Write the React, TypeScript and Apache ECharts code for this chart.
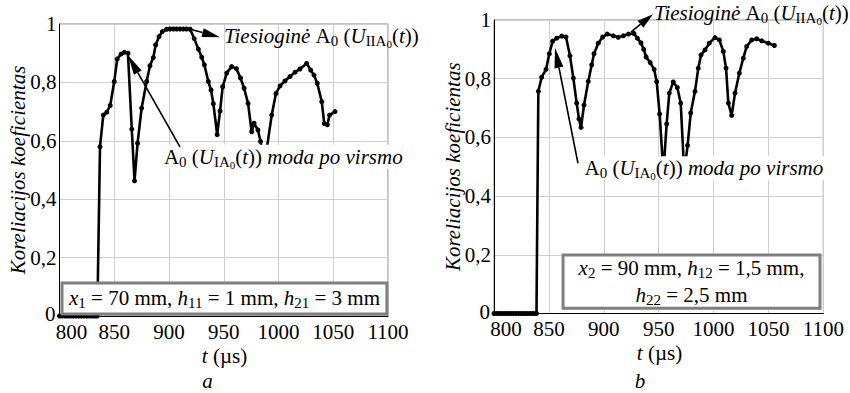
import React, { useEffect, useRef } from "react";
import * as echarts from "echarts";

// ---- data (t in µs, correlation coefficient) ----
const xTicks = [800, 850, 900, 950, 1000, 1050, 1100];
const yTicks = [0, 0.2, 0.4, 0.6, 0.8, 1];

const seriesA: [number, number][] = [
  [800, 0], [802.5, 0], [805, 0], [807.5, 0], [810, 0], [812.5, 0], [815, 0], [817.5, 0],
  [820, 0], [822.5, 0], [825, 0], [827.5, 0], [830, 0], [832.5, 0], [834.5, 0],
  [837, 0.58], [840, 0.688], [843.2, 0.698], [846.3, 0.721], [850, 0.803], [852.7, 0.88],
  [856.2, 0.897], [859.2, 0.903], [862.5, 0.9], [866, 0.64], [868.5, 0.463], [871.3, 0.592],
  [875, 0.712], [879.6, 0.803], [882.6, 0.857], [885.7, 0.885], [887.8, 0.928], [890.9, 0.957],
  [893.9, 0.974], [897.9, 0.982], [901, 0.983], [904, 0.983], [907, 0.983], [910, 0.983],
  [913, 0.983], [916, 0.983], [919.3, 0.982], [923, 0.95], [926.8, 0.914], [929.9, 0.886],
  [932.3, 0.86], [935.9, 0.803], [938.4, 0.774], [940.5, 0.727], [944, 0.621], [946.6, 0.702],
  [949, 0.785], [952.7, 0.832], [957.2, 0.854], [961.6, 0.847], [965.3, 0.815], [968.6, 0.78],
  [972.2, 0.728], [975.5, 0.631], [977.7, 0.66], [981.2, 0.637], [983.6, 0.598], [987.2, 0.52],
  [993.8, 0.688], [997.7, 0.762], [1001.4, 0.788], [1005.9, 0.805], [1010.5, 0.82],
  [1015.1, 0.835], [1019.6, 0.846], [1025.7, 0.865], [1029.4, 0.842], [1032.4, 0.825],
  [1035.4, 0.797], [1039.5, 0.734], [1041.8, 0.659], [1044.6, 0.655], [1046.6, 0.688],
  [1051.6, 0.7],
];

const seriesB: [number, number][] = [
  [800, 0], [802.5, 0], [805, 0], [807.5, 0], [810, 0], [812.5, 0], [815, 0], [817.5, 0],
  [820, 0], [822.5, 0], [825, 0], [827.5, 0], [830, 0], [832.5, 0], [835, 0], [837.5, 0],
  [838.7, 0],
  [840.4, 0.757], [843.4, 0.805], [847.4, 0.832], [850.4, 0.885], [853.4, 0.928],
  [857.1, 0.938], [861.7, 0.945], [865.6, 0.942], [869.2, 0.878], [872.3, 0.802],
  [875.3, 0.717], [877.4, 0.663], [879.3, 0.634], [882, 0.71], [885.9, 0.791], [889, 0.847],
  [891.1, 0.885], [895, 0.921], [899, 0.942], [903.2, 0.952], [908.7, 0.946], [913.2, 0.941],
  [917.8, 0.946], [922.4, 0.952], [927.5, 0.954], [930.6, 0.938], [933.9, 0.922],
  [936.4, 0.9], [938.6, 0.874], [942.3, 0.855], [945.9, 0.832], [948.2, 0.79], [950.9, 0.68],
  [954.3, 0.48], [957.3, 0.646], [959.7, 0.751], [963.3, 0.789], [967, 0.77], [970.1, 0.717],
  [973.3, 0.48], [976.4, 0.573], [979.2, 0.683], [983.1, 0.757], [986.1, 0.836],
  [988.6, 0.881], [992.2, 0.898], [996.1, 0.921], [1001.3, 0.94], [1005.3, 0.932],
  [1008.9, 0.893], [1011.4, 0.836], [1013.5, 0.717], [1016.5, 0.675], [1019.6, 0.751],
  [1023.5, 0.819], [1027.1, 0.87], [1030.2, 0.91], [1034.8, 0.932], [1039.3, 0.936],
  [1043.9, 0.929], [1049.9, 0.921], [1055.4, 0.913],
];

const yName = "Koreliacijos koeficientas";
const xNameVar = "t";
const xNameUnit = " (µs)";
const directLabel = "{i|Tiesioginė }{n|A}{s|0}{n| (}{i|U}{s|IIA}{ss|0}{n|(}{i|t}{n|))}";
const modeLabel = "{n|A}{s|0}{n| (}{i|U}{s|IA}{ss|0}{n|(}{i|t}{n|)) }{i|moda po virsmo}";
const boxLabelA = "{i|x}{s|1}{n| = 70 mm, }{i|h}{s|11}{n| = 1 mm, }{i|h}{s|21}{n| = 3 mm}";
const boxLabelB = "{i|x}{s|2}{n| = 90 mm, }{i|h}{s|12}{n| = 1,5 mm,}\n{i|h}{s|22}{n| = 2,5 mm}";
const captions = ["a", "b"];

const F = "'Liberation Serif', 'Times New Roman', serif";
const F_PLAIN = "Liberation Serif";
const FS = 21;

function makeRich(lh: number) {
  return {
    n: { fontSize: FS, fontFamily: F, fill: "#000", lineHeight: lh },
    i: { fontSize: FS, fontFamily: F, fontStyle: "italic", fill: "#000", lineHeight: lh },
    s: { fontSize: 15, fontFamily: F, fill: "#000", lineHeight: lh, padding: [10, 0, 0, 0] },
    ss: { fontSize: 11, fontFamily: F, fill: "#000", lineHeight: lh, padding: [16, 0, 0, 0] },
  };
}

const fmtY = (v: number) =>
  v === 0 ? "0" : v === 1 ? "1" : (Math.round(v * 10) / 10).toFixed(1).replace(".", ",");

export default function App() {
  const ref = useRef<HTMLDivElement>(null);

  useEffect(() => {
    if (!ref.current) return;
    const chart = echarts.init(ref.current, null, { renderer: "svg" });

    const grids = [
      { left: 59.5, top: 24, width: 328.5, height: 292 },
      { left: 494, top: 20, width: 329.3, height: 293.5 },
    ];

    const xAxis = grids.map((_, i) => ({
      type: "value",
      gridIndex: i,
      min: xTicks[0],
      max: xTicks[xTicks.length - 1],
      interval: xTicks[1] - xTicks[0],
      axisLine: { show: true, lineStyle: { color: "#000", width: 1 } },
      axisTick: { show: false },
      splitLine: { show: true, lineStyle: { color: "#cfcfcf", width: 1 } },
      axisLabel: { show: false },
    }));

    const yAxis = grids.map((_, i) => ({
      type: "value",
      gridIndex: i,
      min: yTicks[0],
      max: yTicks[yTicks.length - 1],
      interval: yTicks[1] - yTicks[0],
      axisLine: { show: true, lineStyle: { color: "#000", width: 1 } },
      axisTick: { show: false },
      splitLine: { show: true, lineStyle: { color: "#cfcfcf", width: 1 } },
      axisLabel: { show: false },
    }));

    const series = [seriesA, seriesB].map((d, i) => ({
      type: "line",
      xAxisIndex: i,
      yAxisIndex: i,
      data: d,
      clip: false,
      symbol: "circle",
      symbolSize: 5,
      showSymbol: true,
      itemStyle: { color: "#000" },
      lineStyle: { color: "#000", width: 2.6 },
      z: 3,
    }));

    chart.setOption({
      animation: false,
      backgroundColor: "#fff",
      grid: grids.map((g) => ({
        ...g,
        show: true,
        borderColor: "#888",
        borderWidth: 1,
        backgroundColor: "transparent",
      })),
      xAxis,
      yAxis,
      series,
    });

    const px = (g: number, p: number[]) => chart.convertToPixel({ gridIndex: g }, p) as number[];

    // rich text (with sub-scripts)
    const text = (x: number, y: number, t: string, align: string, lh: number, extra: any = {}) => ({
      type: "text",
      z: 11,
      x,
      y,
      ...extra,
      style: { text: t, rich: makeRich(lh), align, verticalAlign: "middle", ...(extra.style || {}) },
    });

    // plain text
    const plain = (x: number, y: number, t: string, italic: boolean, align: string, extra: any = {}) => ({
      type: "text",
      z: 11,
      x,
      y,
      ...extra,
      style: {
        text: t,
        fontSize: FS,
        fontFamily: F_PLAIN,
        fontStyle: italic ? "italic" : "normal",
        fill: "#000",
        align,
        verticalAlign: "middle",
      },
    });

    const arrow = (g: number, tail: number[], tip: number[], L: number, W: number) => {
      const p0 = px(g, tail);
      const p1 = px(g, tip);
      const dx = p1[0] - p0[0];
      const dy = p1[1] - p0[1];
      const len = Math.hypot(dx, dy);
      const ux = dx / len;
      const uy = dy / len;
      const bx = p1[0] - ux * L;
      const by = p1[1] - uy * L;
      const nx = -uy;
      const ny = ux;
      return [
        {
          type: "line",
          z: 12,
          shape: { x1: p0[0], y1: p0[1], x2: bx, y2: by },
          style: { stroke: "#000", lineWidth: 1.6 },
        },
        {
          type: "polygon",
          z: 12,
          shape: {
            points: [
              [p1[0], p1[1]],
              [bx + (nx * W) / 2, by + (ny * W) / 2],
              [bx - (nx * W) / 2, by - (ny * W) / 2],
            ],
          },
          style: { fill: "#000" },
        },
      ];
    };

    const label = (g: number, at: number[], t: string, bg: boolean) => {
      const p = px(g, at);
      return text(p[0], p[1], t, "left", 24, {
        style: bg ? { backgroundColor: "#fff", padding: [0, 2, 0, 2] } : {},
      });
    };

    const box = (g: number, c0: number[], c1: number[], center: number[], t: string, lh: number) => {
      const a = px(g, c0);
      const b = px(g, c1);
      const c = px(g, center);
      return [
        {
          type: "rect",
          z: 10,
          shape: { x: a[0], y: a[1], width: b[0] - a[0], height: b[1] - a[1] },
          style: { fill: "#fff", stroke: "#7f7f7f", lineWidth: 3 },
        },
        text(c[0], c[1], t, "center", lh),
      ];
    };

    // axis tick labels and axis names, placed through the axes' own scales
    const xLabelOffset = [16, 15];
    const yNameX = [17.5, 452.5];
    const xNameY = [355.5, 353];
    const xNameHalfWidth = 22;
    const axisTexts: any[] = [];
    grids.forEach((g, gi) => {
      xTicks.forEach((t, k) => {
        const p = px(gi, [t, yTicks[0]]);
        axisTexts.push(plain(p[0] + (k === 0 ? 12 : 0), p[1] + xLabelOffset[gi], String(t), false, "center"));
      });
      yTicks.forEach((v, k) => {
        const p = px(gi, [xTicks[0], v]);
        axisTexts.push(plain(p[0] - (k === 0 ? 4 : 3), p[1] - (k === 0 ? 2 : 0), fmtY(v), false, "right"));
      });
      const mid = px(gi, [(xTicks[0] + xTicks[xTicks.length - 1]) / 2, (yTicks[0] + yTicks[yTicks.length - 1]) / 2]);
      axisTexts.push(plain(yNameX[gi], mid[1], yName, true, "center", { rotation: Math.PI / 2 }));
      axisTexts.push(plain(mid[0] - xNameHalfWidth, xNameY[gi], xNameVar, true, "left"));
      axisTexts.push(plain(mid[0] - xNameHalfWidth + 6, xNameY[gi], xNameUnit, false, "left"));
    });

    const elements: any[] = [
      ...axisTexts,
      // panel a
      label(0, [950.2, 0.959], directLabel, false),
      ...arrow(0, [919.3, 0.982], [946.6, 0.955], 18, 9),
      label(0, [893.5, 0.545], modeLabel, true),
      ...arrow(0, [910, 0.579], [862.5, 0.893], 20, 9),
      ...box(0, [802.3, 0.113], [1099, 0.007], [950.7, 0.06], boxLabelA, 24),
      // panel b
      label(1, [945.7, 1.024], directLabel, false),
      ...arrow(1, [924.8, 0.959], [944.8, 1.02], 16, 9),
      label(1, [880.6, 0.495], modeLabel, true),
      ...arrow(1, [876.5, 0.512], [855.6, 0.905], 20, 9),
      ...box(1, [862.9, 0.199], [1097, 0.018], [979.9, 0.109], boxLabelB, 27),
      // captions
      plain(207.5, 381, captions[0], true, "center"),
      plain(640, 381, captions[1], true, "center"),
    ];

    chart.setOption({ graphic: { elements } });

    return () => chart.dispose();
  }, []);

  return (
    <div
      ref={ref}
      style={{ position: "absolute", left: 0, top: 0, width: 850, height: 393, background: "#fff" }}
    />
  );
}
